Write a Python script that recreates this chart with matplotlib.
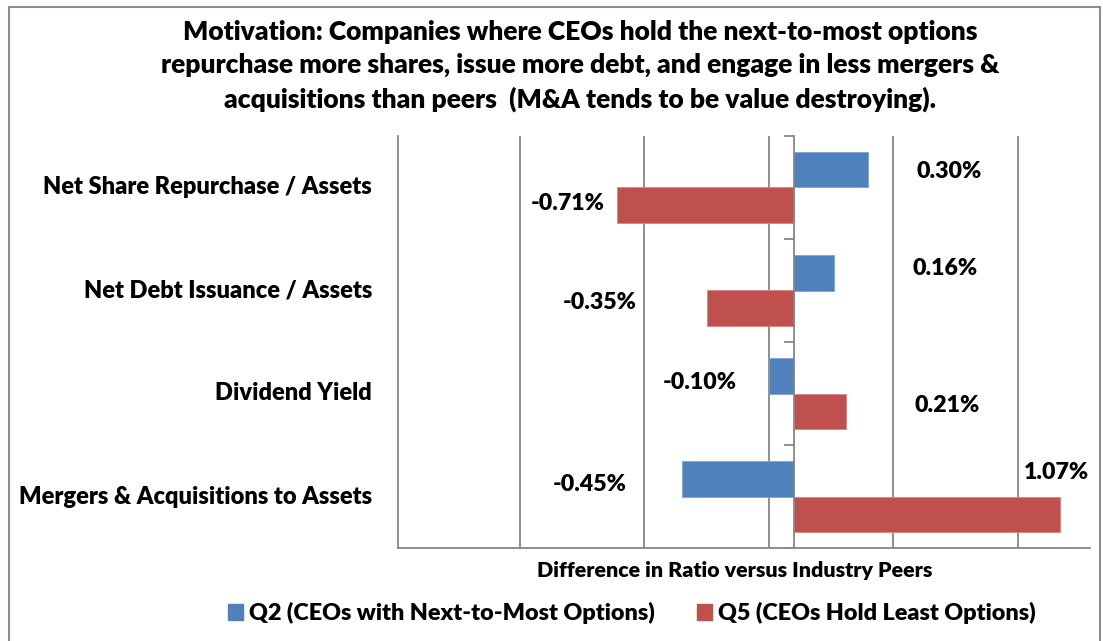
import matplotlib.pyplot as plt
import matplotlib.transforms as mtransforms
from matplotlib.patches import Patch, Rectangle
import numpy as np

plt.rcParams['font.family'] = ['Lato', 'DejaVu Sans']

categories = ["Net Share Repurchase / Assets", "Net Debt Issuance / Assets",
              "Dividend Yield", "Mergers & Acquisitions to Assets"]
q2_vals = [0.30, 0.16, -0.10, -0.45]
q5_vals = [-0.71, -0.35, 0.21, 1.07]
series_names = ["Q2 (CEOs with Next-to-Most Options)", "Q5 (CEOs Hold Least Options)"]

# where Excel had put the data labels (x in %, y offset from category centre)
q2_lab_x = [0.624, 0.608, -0.377, -0.819]
q2_lab_dy = [-0.16, -0.21, -0.11, -0.12]
q5_lab_x = [-0.907, -0.778, 0.616, 1.054]
q5_lab_dy = [0.16, 0.12, 0.12, -0.23]

blue = "#4F81BD"
red = "#C0504D"
grey = "#868686"
W = 'heavy'

fig = plt.figure(figsize=(11.03, 6.41), dpi=100)
ax = fig.add_axes([398/1103, 1-548/641, (1090-398)/1103, (548-136)/641])

y = np.arange(len(categories))
h = 0.34
ax.barh(y - h/2, q2_vals, height=h, color=blue, edgecolor="#7fa3d0", lw=0.6, zorder=3)
ax.barh(y + h/2, q5_vals, height=h, color=red, edgecolor="#d98583", lw=0.6, zorder=3)

ax.set_xlim(-1.59, 1.19)
ax.set_ylim(len(categories) - 0.5, -0.5)

ax.set_xticks([-1.1, -0.6, -0.1, 0.4, 0.9])
ax.tick_params(axis='x', length=0, labelbottom=False)
ax.xaxis.grid(True, color=grey, lw=1.3)
ax.set_axisbelow(True)

# category axis sits on zero
ax.spines['left'].set_position(('data', 0))
ax.spines['left'].set_color(grey)
ax.spines['left'].set_linewidth(1.3)
ax.spines['left'].set_zorder(4)
ax.spines['bottom'].set_color(grey)
ax.spines['bottom'].set_linewidth(1.3)
ax.spines['top'].set_visible(False)
ax.spines['right'].set_visible(False)
ax.set_yticks(np.arange(len(categories) + 1) - 0.5)
ax.set_yticklabels([])
ax.tick_params(axis='y', length=7, width=1.3, color=grey, direction='out')
ax.axvline(ax.get_xlim()[0], color=grey, lw=1.3, clip_on=False)

trans = mtransforms.blended_transform_factory(ax.transAxes, ax.transData)
for i, name in enumerate(categories):
    ax.text(-0.0376, i, name, transform=trans, ha='right', va='center',
            fontsize=17, fontweight=W)

for i in range(len(categories)):
    ax.text(q2_lab_x[i], i + q2_lab_dy[i], f"{q2_vals[i]:.2f}%", ha='center', va='center',
            fontsize=16.7, fontweight=W, zorder=5)
    ax.text(q5_lab_x[i], i + q5_lab_dy[i], f"{q5_vals[i]:.2f}%", ha='center', va='center',
            fontsize=16.7, fontweight=W, zorder=5)

fig.text(580/1103, 1-66/641,
         "Motivation: Companies where CEOs hold the next-to-most options\n"
         "repurchase more shares, issue more debt, and engage in less mergers &\n"
         "acquisitions than peers  (M&A tends to be value destroying).",
         ha='center', va='center', fontsize=19, fontweight=W, linespacing=1.42)

fig.text(735/1103, 1-570/641, "Difference in Ratio versus Industry Peers",
         ha='center', va='center', fontsize=15.4, fontweight=W)

handles = [Patch(color=blue), Patch(color=red)]
fig.legend(handles, series_names, loc='center', bbox_to_anchor=(632/1103, 1-613/641),
           ncol=2, frameon=False, handlelength=0.64, handleheight=0.64, handletextpad=0.26,
           columnspacing=1.8, borderpad=0, prop={'size': 16.8, 'weight': W})

fig.patches.append(Rectangle((9/1103, -0.1), (1100-9)/1103, 1-7/641+0.1,
                             transform=fig.transFigure, fill=False,
                             edgecolor="#8c8c8c", lw=1.5))

fig.savefig("out.png", dpi=100)
